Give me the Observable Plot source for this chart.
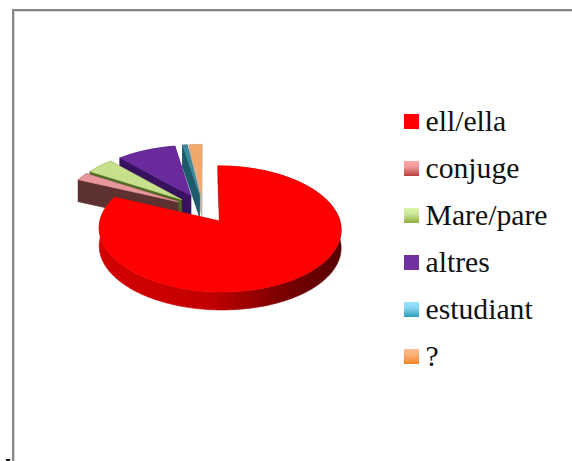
<!DOCTYPE html>
<html>
<head>
<meta charset="utf-8">
<script src="https://cdn.jsdelivr.net/npm/d3@7"></script>
<script src="https://cdn.jsdelivr.net/npm/@observablehq/plot@0.6"></script>
<style>
html,body{margin:0;padding:0;background:#fff;overflow:hidden}
#wrap{position:relative;width:572px;height:461px;overflow:hidden}
#frame{position:absolute;left:12px;top:9px;right:-5px;bottom:-5px;border-left:2px solid #868686;border-top:2px solid #868686;box-shadow:inset 1px 1px 0 #d8d8d8}
#tick{position:absolute;left:6px;top:459px;width:4px;height:2px;background:#111}
#chart{position:absolute;left:0;top:0}
</style>
</head>
<body>
<div id="wrap"><div id="chart"></div><div id="frame"></div><div id="tick"></div></div>
<script>
// Data (share of the pie, percent)
const categories = ["ell/ella", "conjuge", "Mare/pare", "altres", "estudiant", "?"];
const shares = [81.6, 2.1, 4.3, 9.3, 0.7, 2.0];
const topColors = ["#ff0000", "#e8979a", "#c6e08c", "#6a2a9c", "#3d8c9e", "#f2a76b"];
const wallColors = ["url(#wallRed)", "#5e3131", "#4f6b22", "#38115f", "#1d5a6b", "#b9b2aa"];
const swatchFills = ["#ff0000", "url(#swPink)", "url(#swGreen)", "#7030a0", "url(#swBlue)", "url(#swOrange)"];

// Pie view settings
const origin = [203, 208], radiusX = 117, radiusY = 59, tilt = 0.12, explode = 0.25;
const depths = [18, 22, 22, 22, 22, 22];
const legendTop = 114, legendStep = 47;

const project = (u, v, drop = 0) => {
  const s = 1 / (1 + tilt * v);
  return {x: origin[0] + radiusX * u * s, y: origin[1] - radiusY * v * s + drop};
};

const total = d3.sum(shares);
let acc = 0;
const slices = shares.map((v, i) => {
  const a0 = acc / total * 2 * Math.PI;
  acc += v;
  const a1 = acc / total * 2 * Math.PI;
  const m = (a0 + a1) / 2;
  return {i, a0, a1, ou: explode * Math.sin(m), ov: explode * Math.cos(m)};
});
const rim = (s, t, drop) => project(s.ou + Math.sin(t), s.ov + Math.cos(t), drop);
const arcPts = (s, drop, reverse) => {
  const n = Math.max(4, Math.ceil((s.a1 - s.a0) / 0.02));
  const ts = d3.range(n + 1).map(k => s.a0 + (s.a1 - s.a0) * k / n);
  if (reverse) ts.reverse();
  return ts.map(t => rim(s, t, drop));
};
const poly = (pts, fill) => Plot.line([...pts, pts[0]], {x: "x", y: "y", fill, stroke: fill, strokeWidth: 0.6, curve: "linear"});

const sliceMarks = [];
for (const s of [...slices].reverse()) {
  const depth = depths[s.i];
  const c = project(s.ou, s.ov), cd = project(s.ou, s.ov, depth), wall = wallColors[s.i];
  sliceMarks.push(poly([c, rim(s, s.a0, 0), rim(s, s.a0, depth), cd], wall));
  sliceMarks.push(poly([c, rim(s, s.a1, 0), rim(s, s.a1, depth), cd], wall));
  sliceMarks.push(poly([...arcPts(s, 0, false), ...arcPts(s, depth, true)], wall));
  sliceMarks.push(poly([c, ...arcPts(s, 0, false)], topColors[s.i]));
}

const defs = () => d3.create("svg:defs").html(`
  <linearGradient id="wallRed" gradientUnits="userSpaceOnUse" x1="97" x2="341" y1="0" y2="0">
    <stop offset="0" stop-color="#d40000"/><stop offset="0.45" stop-color="#c40000"/>
    <stop offset="0.75" stop-color="#7c0000"/><stop offset="1" stop-color="#560000"/>
  </linearGradient>
  <linearGradient id="swPink" x1="0" x2="0" y1="0" y2="1"><stop offset="0" stop-color="#ffa6a6"/><stop offset="0.4" stop-color="#f09a9a"/><stop offset="1" stop-color="#b83a3a"/></linearGradient>
  <linearGradient id="swGreen" x1="0" x2="0" y1="0" y2="1"><stop offset="0" stop-color="#d8f5a8"/><stop offset="0.4" stop-color="#cce79a"/><stop offset="1" stop-color="#8fae3c"/></linearGradient>
  <linearGradient id="swBlue" x1="0" x2="0" y1="0" y2="1"><stop offset="0" stop-color="#9be3ff"/><stop offset="0.4" stop-color="#86d6f0"/><stop offset="1" stop-color="#2f9cba"/></linearGradient>
  <linearGradient id="swOrange" x1="0" x2="0" y1="0" y2="1"><stop offset="0" stop-color="#ffbd8e"/><stop offset="0.4" stop-color="#fbae78"/><stop offset="1" stop-color="#ef8428"/></linearGradient>
`).node();

const legendRows = categories.map((name, i) => ({name, y: legendTop + i * legendStep}));
const legendMarks = [
  ...legendRows.map((r, i) => Plot.rect([r], {x1: () => 404, x2: () => 419, y1: d => d.y, y2: d => d.y + 15, fill: swatchFills[i]})),
  Plot.text(legendRows, {
    x: () => 425, y: d => d.y + 16, text: "name", textAnchor: "start", lineAnchor: "bottom",
    fontFamily: "Liberation Serif", fontSize: 29.7, fill: "#111"
  })
];

const chart = Plot.plot({
  width: 572, height: 461, margin: 0,
  x: {domain: [0, 572], range: [0, 572], axis: null},
  y: {domain: [0, 461], range: [0, 461], axis: null},
  style: {background: "transparent"},
  marks: [defs, ...sliceMarks, ...legendMarks]
});
document.getElementById("chart").append(chart);
</script>
</body>
</html>
